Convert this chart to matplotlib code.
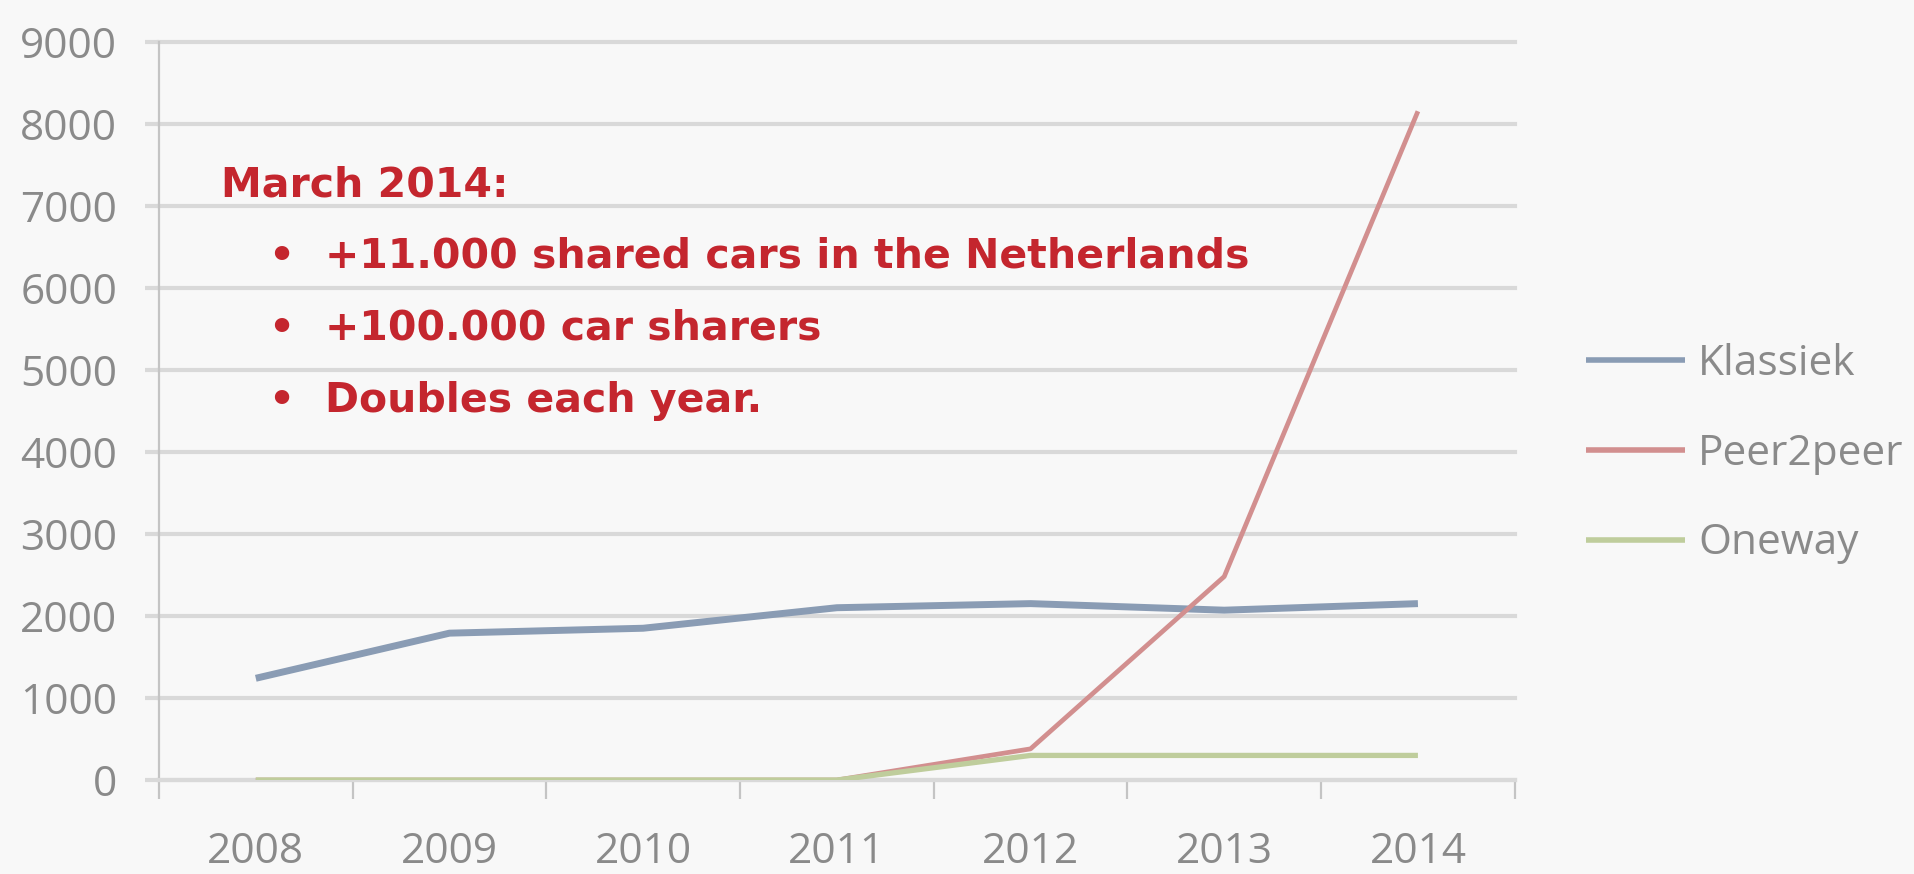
import matplotlib
matplotlib.use("Agg")
import matplotlib.pyplot as plt
from matplotlib.ticker import FixedLocator, NullFormatter

# ---- data ----
years = ['2008', '2009', '2010', '2011', '2012', '2013', '2014']
klassiek = [1240, 1790, 1850, 2100, 2150, 2070, 2150]
peer2peer = [0, 0, 0, 0, 380, 2480, 8150]
oneway = [0, 0, 0, 0, 300, 300, 300]
series_names = ['Klassiek', 'Peer2peer', 'Oneway']
y_ticks = [0, 1000, 2000, 3000, 4000, 5000, 6000, 7000, 8000, 9000]
note_title = 'March 2014:'
note_items = ['+11.000 shared cars in the Netherlands',
              '+100.000 car sharers',
              'Doubles each year.']

# ---- style ----
bg = '#f8f8f8'
grid_c = '#d9d9d9'
axis_c = '#c4c4c4'
label_c = '#8a8a8a'
red = '#c4262e'
colors = ['#8a9cb4', '#d28f8f', '#bfcd9c']
widths = [5.0, 3.4, 3.8]
tick_font = ['Open Sans', 'DejaVu Sans']

fig = plt.figure(figsize=(19.15, 8.74), dpi=100, facecolor=bg)
ax = fig.add_axes([0.083, 0.1075, 0.708, 0.845], facecolor=bg)

x = list(range(len(years)))
for vals, name, c, lw in zip([klassiek, peer2peer, oneway], series_names, colors, widths):
    ax.plot(x, vals, color=c, lw=lw, label=name, solid_joinstyle='round',
            solid_capstyle='butt', zorder=3)

ax.set_xlim(-0.5, len(years) - 0.5)
ax.set_ylim(0, 9000)
ax.set_yticks(y_ticks)
ax.set_yticklabels([str(v) for v in y_ticks])
ax.yaxis.grid(True, color=grid_c, lw=3.0, zorder=0)
for gl in ax.yaxis.get_gridlines():
    gl.set_clip_on(False)
ax.set_axisbelow(True)

# x: labels at category centres, tick marks at boundaries
ax.set_xticks(x)
ax.set_xticklabels(years)
ax.xaxis.set_minor_locator(FixedLocator([i - 0.5 for i in range(len(years) + 1)]))
ax.xaxis.set_minor_formatter(NullFormatter())
ax.tick_params(axis='x', which='major', length=0, pad=37, labelsize=30.5,
               labelcolor=label_c)
ax.tick_params(axis='x', which='minor', length=14, width=1.6, color=axis_c,
               direction='out')
ax.tick_params(axis='y', length=10, width=3.0, color=grid_c, pad=20,
               labelsize=30.5, labelcolor=label_c)
for lab in ax.get_xticklabels() + ax.get_yticklabels():
    lab.set_fontfamily(tick_font)

for s in ['top', 'right']:
    ax.spines[s].set_visible(False)
ax.spines['left'].set_color(axis_c)
ax.spines['left'].set_linewidth(1.6)
ax.spines['bottom'].set_color(grid_c)
ax.spines['bottom'].set_linewidth(3.0)

leg = ax.legend(loc='center left', bbox_to_anchor=(0.828, 0.481),
                bbox_transform=fig.transFigure, frameon=False,
                prop={'family': tick_font, 'size': 30.5},
                handlelength=2.35, handletextpad=0.3, labelspacing=1.13,
                borderpad=0, borderaxespad=0)
for t in leg.get_texts():
    t.set_color(label_c)
for h in leg.get_lines():
    h.set_linewidth(4.0)

# annotation text
fs = 29.5
fig.text(0.1154, 0.7746, note_title, color=red, fontsize=fs,
         fontweight='bold', family='DejaVu Sans', va='baseline', ha='left')
base_ys = [0.6934, 0.6110, 0.5286]
for item, yb in zip(note_items, base_ys):
    fig.text(0.1467, yb, '\u2022', color=red, fontsize=fs, fontweight='bold',
             family='DejaVu Sans', va='baseline', ha='center')
    fig.text(0.1697, yb, item, color=red, fontsize=fs, fontweight='bold',
             family='DejaVu Sans', va='baseline', ha='left')

fig.savefig('out.png', dpi=100, facecolor=bg)
